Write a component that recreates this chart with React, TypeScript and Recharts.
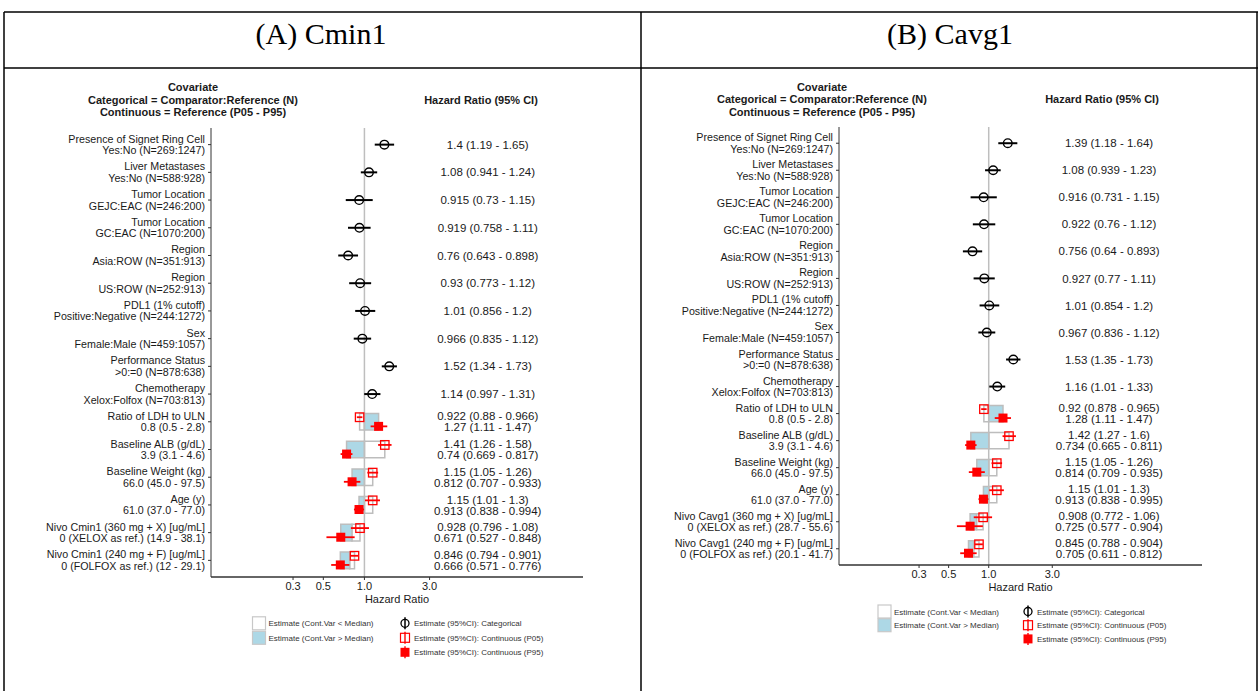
import React from "react";
import {
  ComposedChart,
  Scatter,
  XAxis,
  YAxis,
  ErrorBar,
  ReferenceLine,
  ReferenceArea,
} from "recharts";

const FONT = "'Liberation Sans', Arial, Helvetica, sans-serif";
const SERIF = "'Liberation Serif', 'Times New Roman', serif";

// row labels (top to bottom)
const commonTitles = [
  "Presence of Signet Ring Cell",
  "Liver Metastases",
  "Tumor Location",
  "Tumor Location",
  "Region",
  "Region",
  "PDL1 (1% cutoff)",
  "Sex",
  "Performance Status",
  "Chemotherapy",
  "Ratio of LDH to ULN",
  "Baseline ALB (g/dL)",
  "Baseline Weight (kg)",
  "Age (y)",
];
const commonSubs = [
  "Yes:No (N=269:1247)",
  "Yes:No (N=588:928)",
  "GEJC:EAC (N=246:200)",
  "GC:EAC (N=1070:200)",
  "Asia:ROW (N=351:913)",
  "US:ROW (N=252:913)",
  "Positive:Negative (N=244:1272)",
  "Female:Male (N=459:1057)",
  ">0:=0 (N=878:638)",
  "Xelox:Folfox (N=703:813)",
  "0.8 (0.5 - 2.8)",
  "3.9 (3.1 - 4.6)",
  "66.0 (45.0 - 97.5)",
  "61.0 (37.0 - 77.0)",
];
const titlesA = [
  ...commonTitles,
  "Nivo Cmin1 (360 mg + X) [ug/mL]",
  "Nivo Cmin1 (240 mg + F) [ug/mL]",
];
const subsA = [
  ...commonSubs,
  "0 (XELOX as ref.) (14.9 - 38.1)",
  "0 (FOLFOX as ref.) (12 - 29.1)",
];
const titlesB = [
  ...commonTitles,
  "Nivo Cavg1 (360 mg + X) [ug/mL]",
  "Nivo Cavg1 (240 mg + F) [ug/mL]",
];
const subsB = [
  ...commonSubs,
  "0 (XELOX as ref.) (28.7 - 55.6)",
  "0 (FOLFOX as ref.) (20.1 - 41.7)",
];

// categorical rows: [estimate, lower, upper]
const catA = [
  [1.4, 1.19, 1.65],
  [1.08, 0.941, 1.24],
  [0.915, 0.73, 1.15],
  [0.919, 0.758, 1.11],
  [0.76, 0.643, 0.898],
  [0.93, 0.773, 1.12],
  [1.01, 0.856, 1.2],
  [0.966, 0.835, 1.12],
  [1.52, 1.34, 1.73],
  [1.14, 0.997, 1.31],
];
const catB = [
  [1.39, 1.18, 1.64],
  [1.08, 0.939, 1.23],
  [0.916, 0.731, 1.15],
  [0.922, 0.76, 1.12],
  [0.756, 0.64, 0.893],
  [0.927, 0.77, 1.11],
  [1.01, 0.854, 1.2],
  [0.967, 0.836, 1.12],
  [1.53, 1.35, 1.73],
  [1.16, 1.01, 1.33],
];

// continuous rows: P05 and P95 [estimate, lower, upper], median-level HR
const p05A = [
  [0.922, 0.88, 0.966],
  [1.41, 1.26, 1.58],
  [1.15, 1.05, 1.26],
  [1.15, 1.01, 1.3],
  [0.928, 0.796, 1.08],
  [0.846, 0.794, 0.901],
];
const p95A = [
  [1.27, 1.11, 1.47],
  [0.74, 0.669, 0.817],
  [0.812, 0.707, 0.933],
  [0.913, 0.838, 0.994],
  [0.671, 0.527, 0.848],
  [0.666, 0.571, 0.776],
];
const medA = [1, 1, 1, 1, 0.81, 0.78];

const p05B = [
  [0.92, 0.878, 0.965],
  [1.42, 1.27, 1.6],
  [1.15, 1.05, 1.26],
  [1.15, 1.01, 1.3],
  [0.908, 0.772, 1.06],
  [0.845, 0.788, 0.904],
];
const p95B = [
  [1.28, 1.11, 1.47],
  [0.734, 0.665, 0.811],
  [0.814, 0.709, 0.935],
  [0.913, 0.838, 0.995],
  [0.725, 0.577, 0.904],
  [0.705, 0.611, 0.812],
];
const medB = [1, 1, 1, 1, 0.81, 0.77];

const rowTicks = [1, 2, 3, 4, 5, 6, 7, 8, 9, 10, 11, 12, 13, 14, 15, 16];
const xTicks = [0.3, 0.5, 1, 3];

const X_DOMAIN: [number, number] = [0.0752, 39.9];
const Y_DOMAIN: [number, number] = [0.4, 16.6];
const TEXT_X = 8;
const DODGE = 0.165;
const BOX_HALF = 0.3;

const fmt = (v: number[]) => `${v[0]} (${v[1]} - ${v[2]})`;

function RowTick(props: any) {
  const { x, y, payload, titles, subs } = props;
  const i = Math.round(payload.value) - 1;
  return (
    <text textAnchor="end" fontSize={10.7} fontFamily={FONT} fill="#1a1a1a">
      <tspan x={x} y={y - 2}>{titles[i]}</tspan>
      <tspan x={x} y={y + 9.5}>{subs[i]}</tspan>
    </text>
  );
}

function ValueText(props: any) {
  const { cx, cy, payload } = props;
  const lines: string[] = payload.lines;
  const off = 4.1;
  return (
    <text textAnchor="middle" fontSize={11.5} fontFamily={FONT} fill="#1a1a1a">
      {lines.length === 1 ? (
        <tspan x={cx} y={cy + off}>{lines[0]}</tspan>
      ) : (
        <>
          <tspan x={cx} y={cy - 5.5 + off}>{lines[0]}</tspan>
          <tspan x={cx} y={cy + 5.5 + off}>{lines[1]}</tspan>
        </>
      )}
    </text>
  );
}

const CatDot = (p: any) => (
  <circle cx={p.cx} cy={p.cy} r={4.3} fill="none" stroke="#000" strokeWidth={1.4} />
);
const OpenSq = (p: any) => (
  <rect x={p.cx - 4.2} y={p.cy - 4.3} width={8.4} height={8.6} fill="none" stroke="#ff0000" strokeWidth={1.3} />
);
const FillSq = (p: any) => (
  <rect x={p.cx - 4.5} y={p.cy - 4.5} width={9} height={9} fill="#ff0000" />
);

type PanelProps = {
  titles: string[];
  subs: string[];
  cat: number[][];
  p05: number[][];
  p95: number[][];
  med: number[];
  width: number;
  height: number;
  yWidth: number;
  margin: { top: number; right: number; bottom: number; left: number };
};

function ForestPanel({ titles, subs, cat, p05, p95, med, width, height, yWidth, margin }: PanelProps) {
  const catData = cat.map((v, i) => ({ x: v[0], y: i + 1, err: [v[0] - v[1], v[2] - v[0]] }));
  const p05Data = p05.map((v, i) => ({ x: v[0], y: cat.length + 1 + i - DODGE, err: [v[0] - v[1], v[2] - v[0]] }));
  const p95Data = p95.map((v, i) => ({ x: v[0], y: cat.length + 1 + i + DODGE, err: [v[0] - v[1], v[2] - v[0]] }));
  const textData = [
    ...cat.map((v, i) => ({ x: TEXT_X, y: i + 1, lines: [fmt(v)] })),
    ...p05.map((v, i) => ({ x: TEXT_X, y: cat.length + 1 + i, lines: [fmt(v), fmt(p95[i])] })),
  ];

  return (
    <ComposedChart width={width} height={height} margin={margin}>
      {med.map((m, i) => {
        const row = cat.length + 1 + i;
        return (
          <ReferenceArea
            key={`w${i}`}
            x1={Math.min(m, p05[i][0])}
            x2={Math.max(m, p05[i][0])}
            y1={row - BOX_HALF}
            y2={row + BOX_HALF}
            fill="#ffffff"
            fillOpacity={1}
            stroke="#bdbdbd"
            strokeWidth={1.5}
          />
        );
      })}
      {med.map((m, i) => {
        const row = cat.length + 1 + i;
        return (
          <ReferenceArea
            key={`b${i}`}
            x1={Math.min(m, p95[i][0])}
            x2={Math.max(m, p95[i][0])}
            y1={row - BOX_HALF}
            y2={row + BOX_HALF}
            fill="#add8e6"
            fillOpacity={1}
            stroke="#bdbdbd"
            strokeWidth={1.5}
          />
        );
      })}
      <ReferenceLine x={1} stroke="#bebebe" strokeWidth={1.5} />
      <XAxis
        type="number"
        dataKey="x"
        scale="log"
        domain={X_DOMAIN}
        allowDataOverflow
        ticks={xTicks}
        tickFormatter={(v: number) => v.toFixed(1)}
        tick={{ fontSize: 11, fill: "#1a1a1a", fontFamily: FONT }}
        tickSize={3}
        tickMargin={2}
        height={26}
        axisLine={{ stroke: "#333", strokeWidth: 1.5 }}
        tickLine={{ stroke: "#333" }}
        label={{ value: "Hazard Ratio", position: "insideBottom", offset: 0, fontSize: 11, fill: "#1a1a1a", fontFamily: FONT }}
      />
      <YAxis
        type="number"
        dataKey="y"
        domain={Y_DOMAIN}
        allowDataOverflow
        reversed
        ticks={rowTicks}
        interval={0}
        width={yWidth}
        tickSize={3}
        tickMargin={3}
        axisLine={{ stroke: "#333", strokeWidth: 1 }}
        tickLine={{ stroke: "#333" }}
        tick={(p: any) => <RowTick {...p} titles={titles} subs={subs} />}
      />
      <Scatter data={catData} shape={CatDot} isAnimationActive={false} legendType="none">
        <ErrorBar dataKey="err" direction="x" width={0} stroke="#000" strokeWidth={2} isAnimationActive={false} />
      </Scatter>
      <Scatter data={p05Data} shape={OpenSq} isAnimationActive={false} legendType="none">
        <ErrorBar dataKey="err" direction="x" width={0} stroke="#ff0000" strokeWidth={1.8} isAnimationActive={false} />
      </Scatter>
      <Scatter data={p95Data} shape={FillSq} isAnimationActive={false} legendType="none">
        <ErrorBar dataKey="err" direction="x" width={0} stroke="#ff0000" strokeWidth={1.8} isAnimationActive={false} />
      </Scatter>
      <Scatter data={textData} shape={ValueText} isAnimationActive={false} legendType="none" />
    </ComposedChart>
  );
}

function Header({ cx, hx, y }: { cx: number; hx: number; y: number }) {
  const s: React.CSSProperties = { fontSize: 11, fontWeight: 700, fill: "#1a1a1a", fontFamily: FONT };
  return (
    <g>
      <text x={cx} y={y} textAnchor="middle" style={s}>Covariate</text>
      <text x={cx} y={y + 12.6} textAnchor="middle" style={s}>Categorical = Comparator:Reference (N)</text>
      <text x={cx} y={y + 25} textAnchor="middle" style={s}>Continuous = Reference (P05 - P95)</text>
      <text x={hx} y={y + 12.6} textAnchor="middle" style={s}>Hazard Ratio (95% CI)</text>
    </g>
  );
}

function LegendBlock({ lx, rx, y, gap }: { lx: number; rx: number; y: number; gap: number }) {
  const t: React.CSSProperties = { fontSize: 8, fill: "#333", fontFamily: FONT };
  return (
    <g>
      <rect x={lx} y={y - 6.5} width={13} height={13} fill="#fff" stroke="#c8c8c8" strokeWidth={1.2} />
      <rect x={lx} y={y + gap - 6.5} width={13} height={13} fill="#add8e6" stroke="#c8c8c8" strokeWidth={1.2} />
      <text x={lx + 16} y={y + 3} style={t}>Estimate (Cont.Var &lt; Median)</text>
      <text x={lx + 16} y={y + gap + 3} style={t}>Estimate (Cont.Var &gt; Median)</text>

      <circle cx={rx} cy={y} r={4} fill="none" stroke="#000" strokeWidth={1.3} />
      <line x1={rx} x2={rx} y1={y - 6} y2={y + 6} stroke="#000" strokeWidth={1.5} />
      <rect x={rx - 4.5} y={y + gap - 4.5} width={9} height={9} fill="none" stroke="#ff0000" strokeWidth={1.2} />
      <line x1={rx} x2={rx} y1={y + gap - 6} y2={y + gap + 6} stroke="#ff0000" strokeWidth={1.4} />
      <rect x={rx - 4.5} y={y + 2 * gap - 4.5} width={9} height={9} fill="#ff0000" />
      <line x1={rx} x2={rx} y1={y + 2 * gap - 6} y2={y + 2 * gap + 6} stroke="#ff0000" strokeWidth={1.4} />
      <text x={rx + 9} y={y + 3} style={t}>Estimate (95%CI): Categorical</text>
      <text x={rx + 9} y={y + gap + 3} style={t}>Estimate (95%CI): Continuous (P05)</text>
      <text x={rx + 9} y={y + 2 * gap + 3} style={t}>Estimate (95%CI): Continuous (P95)</text>
    </g>
  );
}

export default function App() {
  return (
    <div style={{ position: "absolute", left: 0, top: 0, width: 1258, height: 691, background: "#fff", overflow: "hidden" }}>
      <svg width={1258} height={691} style={{ position: "absolute", left: 0, top: 0 }}>
        <g stroke="#000" strokeWidth={1.5}>
          <line x1={4} x2={1258} y1={12} y2={12} />
          <line x1={4} x2={1258} y1={68} y2={68} />
          <line x1={4} x2={4} y1={12} y2={691} />
          <line x1={641} x2={641} y1={12} y2={691} />
          <line x1={1257} x2={1257} y1={12} y2={691} />
        </g>
        <text x={321} y={44} textAnchor="middle" fontFamily={SERIF} fontSize={30} fill="#000">(A) Cmin1</text>
        <text x={950} y={44} textAnchor="middle" fontFamily={SERIF} fontSize={30} fill="#000">(B) Cavg1</text>
        <Header cx={193} hx={481} y={91} />
        <Header cx={822} hx={1102} y={90.5} />
        <LegendBlock lx={252.5} rx={405} y={623.3} gap={14.5} />
        <LegendBlock lx={878} rx={1028} y={611.5} gap={13.7} />
      </svg>
      <div style={{ position: "absolute", left: 0, top: 0 }}>
        <ForestPanel
          titles={titlesA}
          subs={subsA}
          cat={catA}
          p05={p05A}
          p95={p95A}
          med={medA}
          width={640}
          height={691}
          yWidth={211}
          margin={{ top: 128, right: 57, bottom: 88, left: 0 }}
        />
      </div>
      <div style={{ position: "absolute", left: 641, top: 0 }}>
        <ForestPanel
          titles={titlesB}
          subs={subsB}
          cat={catB}
          p05={p05B}
          p95={p95B}
          med={medB}
          width={617}
          height={691}
          yWidth={198}
          margin={{ top: 127, right: 56, bottom: 100, left: 0 }}
        />
      </div>
    </div>
  );
}
